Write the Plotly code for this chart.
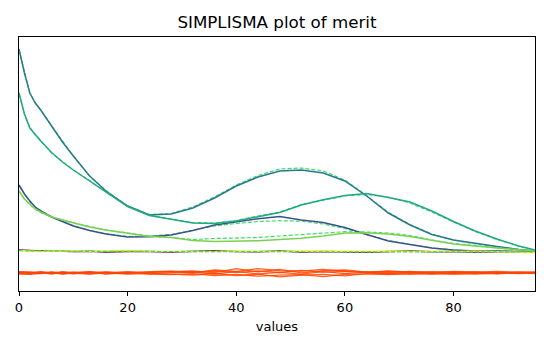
import plotly.graph_objects as go

# x positions (data units)
x = [0, 1, 2, 3, 4, 6, 8, 10, 13, 16, 20, 24, 28, 32, 36, 40, 44, 48, 52, 56, 60, 64, 68, 72, 76, 80, 84, 88, 92, 95]

# original profiles (solid)
s1 = [242, 218, 198, 188, 181, 165, 149, 135, 115, 100, 85, 76, 77, 83, 93, 105, 114, 120, 121, 118, 110, 95, 78, 66, 56.5, 51, 47.5, 44.5, 41.5, 40]
s2 = [198, 177, 163, 156, 150, 138.5, 129, 121, 110, 99, 84.5, 75.5, 71.5, 68, 67.5, 70, 74.3, 78.5, 86, 91.3, 95.5, 97.5, 93.5, 89, 80, 69.5, 60, 52, 45, 41]
s3 = [106, 97, 90, 84, 80, 74, 69.5, 65, 60.5, 57, 54, 54.3, 56, 60.5, 66, 69.5, 72.3, 74.5, 71, 68.5, 63.5, 56.5, 50, 46.5, 43, 41, 40, 40, 39.5, 39]
s4 = [100, 92, 87, 82, 79, 74, 71, 68, 64, 61, 57.5, 54.5, 53.5, 50.5, 49.5, 50, 50.2, 51.5, 52.7, 55, 58, 58.3, 57, 54.5, 50.5, 47, 45, 43, 41, 40]
s5 = [41, 40.6, 40.5, 40.3, 40.2, 39.8, 40.1, 39.5, 39.8, 38.9, 39.4, 39.6, 39, 39.8, 40.3, 39.5, 39.2, 39.9, 39.1, 39.6, 39.3, 38.8, 39.5, 39.9, 39.2, 39.6, 38.7, 39.3, 39.1, 39.4]
s6 = [40.5, 40.3, 40.2, 39.9, 39.6, 40.0, 39.7, 40.3, 39.6, 39.9, 40.4, 39.7, 39.5, 39.9, 39.6, 40.1, 39.7, 39.4, 39.9, 39.5, 39.8, 39.6, 39.9, 39.4, 39.8, 39.5, 39.7, 39.3, 39.0, 38.6]

# reconstructed profiles (dashed)
d1 = [241, 218, 198, 188, 181, 165, 149.5, 135, 115, 100.5, 85, 76.5, 77.5, 84, 94, 106, 115.5, 122, 123, 120, 111, 95.5, 78.5, 66.5, 57, 51, 47, 44, 41.5, 40]
d2 = [197, 177, 163.5, 156, 150.5, 138, 129.5, 121, 110.5, 99, 85, 76, 72, 68.5, 68, 70.5, 75, 79, 86.5, 91, 95, 96.5, 94, 88, 79, 69, 59.5, 51.5, 45, 41]
d3 = [105, 97, 89, 84, 80.5, 74, 69.5, 65.5, 60.5, 57.5, 54.5, 55, 56.5, 60.5, 65, 67.5, 69.5, 70.3, 69.8, 67, 62.5, 56.5, 50.5, 46.5, 43, 41, 40, 40, 39.5, 39]
d4 = [100, 92, 86.5, 82, 78.5, 74, 71, 68, 64.5, 61, 58, 55, 53.5, 51.5, 52.5, 53, 53.5, 55, 56.5, 58, 59.3, 59, 58, 55.5, 51, 47.5, 45, 43, 41, 40]
d5 = [40.3, 40.2, 40.1, 40.0, 39.9, 39.8, 39.8, 39.7, 39.6, 39.6, 39.5, 39.5, 39.5, 39.4, 39.4, 39.4, 39.3, 39.3, 39.3, 39.2, 39.2, 39.2, 39.2, 39.1, 39.1, 39.1, 39.0, 39.0, 39.0, 39.0]

# residuals (red)
r1 = [18, 17.2, 17.0, 18.4, 18.9, 17.4, 18.6, 17.1, 18.7, 17.5, 19.0, 17.3, 18.4, 19.1, 17.0, 19.4, 17.2, 18.7, 16.8, 19.3, 17.4, 18.8, 17.5, 18.6, 17.2, 18.5, 18.8, 17.4, 18.6, 18.0]
r2 = [19.2, 18.7, 18.3, 17.6, 17.3, 19.2, 17.7, 18.9, 17.2, 19.1, 17.6, 19.4, 19.8, 18.2, 21.0, 19.5, 22.3, 20.4, 19.8, 21.7, 19.6, 18.9, 18.3, 19.6, 18.2, 19.1, 17.8, 18.9, 17.6, 18.6]
r3 = [16.9, 17.4, 17.7, 18.3, 18.6, 16.9, 19.0, 17.5, 19.1, 17.0, 18.3, 16.8, 16.3, 17.3, 15.4, 16.7, 14.8, 15.9, 16.4, 14.3, 16.7, 17.1, 17.5, 16.9, 17.8, 17.0, 17.9, 17.2, 18.3, 17.5]
r4 = [18.5, 18.9, 19.1, 18.4, 17.6, 18.6, 17.1, 18.4, 18.0, 18.8, 17.3, 18.6, 19.2, 20.0, 18.4, 22.4, 19.1, 21.7, 18.1, 20.3, 21.0, 18.8, 19.8, 18.5, 19.4, 18.3, 19.2, 18.1, 18.9, 18.3]
r5 = [17.4, 16.9, 16.7, 17.2, 17.8, 18.3, 16.8, 17.8, 17.0, 18.1, 16.9, 17.7, 16.8, 16.0, 17.5, 15.3, 16.9, 14.1, 15.9, 16.7, 15.2, 17.3, 16.5, 17.4, 16.9, 17.5, 17.0, 17.9, 17.3, 17.8]
r6 = [19.3, 18.8, 18.6, 18.9, 19.3, 18.3, 19.1, 18.5, 19.4, 18.3, 19.2, 18.6, 19.5, 18.8, 19.9, 18.6, 20.0, 18.5, 20.7, 18.8, 19.6, 18.9, 19.9, 19.0, 18.7, 19.5, 18.9, 19.6, 18.8, 19.2]

x_ticks = [0, 20, 40, 60, 80]

solid = [
    (s5, "#440154"),
    (s3, "#3b528b"),
    (s1, "#2a788e"),
    (s2, "#22a884"),
    (s4, "#7ad151"),
    (s6, "#fde725"),
]
dashed_main = [d1, d2, d3, d4]
dashed_flat = [d5]
resid = [r1, r2, r3, r4, r5, r6]

DASH = dict(color="#3ddc68", width=1.2, dash="4px,2px")

fig = go.Figure()
for ys in dashed_main:
    fig.add_trace(go.Scatter(x=x, y=ys, mode="lines", line=DASH, showlegend=False))
for ys, c in solid:
    fig.add_trace(go.Scatter(x=x, y=ys, mode="lines", line=dict(color=c, width=1.5), showlegend=False))
for ys in dashed_flat:
    fig.add_trace(go.Scatter(x=x, y=ys, mode="lines", line=DASH, showlegend=False))
for ys in resid:
    fig.add_trace(go.Scatter(x=x, y=ys, mode="lines",
                             line=dict(color="#ff4500", width=1.3), opacity=0.85, showlegend=False))

fig.update_layout(
    width=550, height=350,
    margin=dict(l=19, r=15, t=37, b=59),
    paper_bgcolor="white", plot_bgcolor="white",
    font=dict(family="DejaVu Sans", color="black", size=13),
    title=dict(text="SIMPLISMA plot of merit", x=0.5036, xanchor="center",
               y=1 - 22 / 350, yanchor="middle", font=dict(size=16.7, color="black")),
)
fig.update_xaxes(
    range=[0, 95], tickvals=x_ticks, ticktext=[str(t) for t in x_ticks],
    showline=True, mirror=True, linecolor="black", linewidth=1,
    ticks="outside", ticklen=4, tickcolor="black", showgrid=False, zeroline=False,
    title=dict(text="values", font=dict(size=13), standoff=8),
    tickfont=dict(size=13),
)
fig.update_yaxes(
    range=[0, 254], showline=True, mirror=True, linecolor="black", linewidth=1,
    showticklabels=False, ticks="", showgrid=False, zeroline=False,
)

fig.write_html("out.html")
